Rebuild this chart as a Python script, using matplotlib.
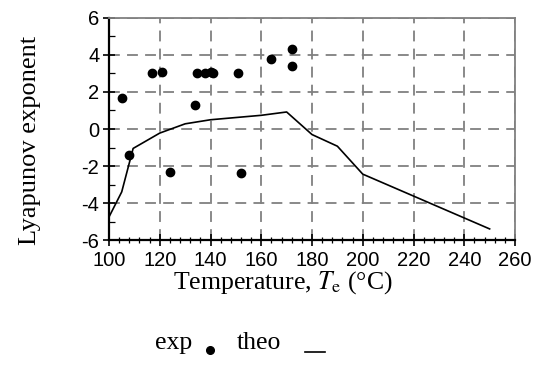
import matplotlib
matplotlib.use("Agg")
import matplotlib.pyplot as plt
from matplotlib.lines import Line2D
from matplotlib.ticker import MultipleLocator

plt.rcParams["axes.unicode_minus"] = False

exp_t = [105, 108, 117, 121, 124, 134, 134.7, 138, 140, 141, 151, 152, 164, 172, 172]
exp_l = [1.7, -1.4, 3.0, 3.1, -2.3, 1.3, 3.0, 3.0, 3.1, 3.0, 3.0, -2.4, 3.8, 4.3, 3.4]

# theoretical curve
theo_t = [100, 105, 109.5, 120, 130, 140, 160, 170, 180, 190, 200, 250]
theo_l = [-4.75, -3.4, -1.05, -0.22, 0.28, 0.5, 0.74, 0.92, -0.3, -0.93, -2.44, -5.4]

fig = plt.figure(figsize=(5.4, 3.67), dpi=100)
ax = fig.add_axes([0.2019, 0.346, 0.7518, 0.605])

ax.plot(theo_t, theo_l, color="black", lw=1.2, zorder=3)
ax.plot(exp_t, exp_l, "o", color="black", ms=6, zorder=4)

ax.set_xlim(100, 260)
ax.set_ylim(-6, 6)
ax.xaxis.set_major_locator(MultipleLocator(20))
ax.xaxis.set_minor_locator(MultipleLocator(4))
ax.yaxis.set_major_locator(MultipleLocator(2))
ax.yaxis.set_minor_locator(MultipleLocator(1))

ax.grid(True, which="major", color="#808080", lw=1.3, linestyle=(0, (6, 4)))
ax.set_axisbelow(True)

for s in ["top", "right"]:
    ax.spines[s].set_color("#808080")
    ax.spines[s].set_linewidth(1.3)
for s in ["left", "bottom"]:
    ax.spines[s].set_color("black")
    ax.spines[s].set_linewidth(1.6)

ax.tick_params(axis="x", which="major", direction="inout", length=8, width=1.2, labelsize=14.5, pad=4)
ax.tick_params(axis="x", which="minor", direction="inout", length=5, width=0.9)
ax.tick_params(axis="y", which="major", direction="inout", length=8, width=1.2, labelsize=14.5, pad=3)
ax.tick_params(axis="y", which="minor", direction="in", length=4, width=0.9)
for lbl in ax.get_xticklabels() + ax.get_yticklabels():
    lbl.set_fontfamily("Liberation Sans")

serif = "Liberation Serif"
ax.set_ylabel("Lyapunov exponent", fontsize=19, family=serif)
ax.yaxis.set_label_coords(-0.168, 0.45)
fig.text(0.524, 0.229, r"Temperature, $\mathit{T}_{\mathrm{e}}$ (°C)", ha="center", va="center",
         fontsize=18.5, family=serif, math_fontfamily="stix")

# legend line under the axis label
fig.text(0.287, 0.065, "exp", ha="left", va="center", fontsize=18.5, family=serif)
fig.text(0.439, 0.065, "theo", ha="left", va="center", fontsize=18.5, family=serif)
fig.add_artist(Line2D([0.389], [0.045], marker="o", color="black", ms=5.5, transform=fig.transFigure))
fig.add_artist(Line2D([0.565, 0.602], [0.04, 0.04], color="black", lw=1.2, transform=fig.transFigure))

fig.savefig("out.png", dpi=100)
